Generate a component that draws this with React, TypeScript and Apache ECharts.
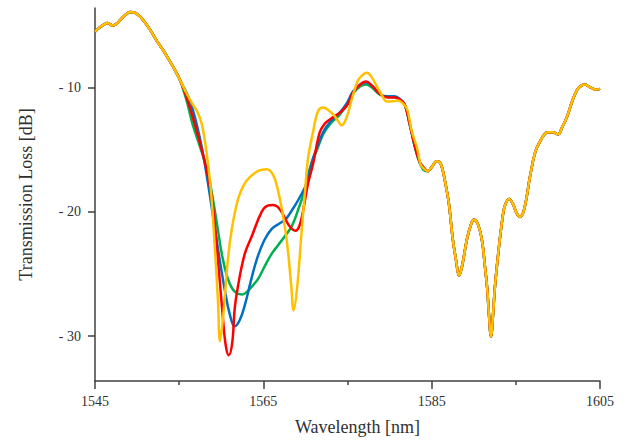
import React, { useEffect, useRef } from "react";
import * as echarts from "echarts";

// Wavelength [nm], Transmission loss [dB]
const frontCommon: [number, number][] = [
  [1545.0, -5.5], [1545.5, -5.2], [1546.0, -4.96], [1546.5, -4.8], [1547.1, -5.0],
  [1547.6, -4.85], [1548.0, -4.56], [1548.6, -4.16], [1549.2, -3.92], [1549.75, -4.0],
  [1550.3, -4.25], [1550.7, -4.56], [1551.5, -5.3], [1552.4, -6.3], [1553.2, -7.1],
  [1553.9, -7.9], [1554.5, -8.6], [1555.1, -9.4],
];

const tailCommon: [number, number][] = [
  [1584.55, -16.72], [1585.0, -16.4], [1585.6, -15.92], [1586.1, -16.16], [1586.6, -17.6],
  [1587.05, -19.36], [1587.5, -22.16], [1587.9, -23.9], [1588.25, -25.12], [1588.6, -24.4],
  [1589.2, -22.16], [1589.7, -20.96], [1590.0, -20.64], [1590.5, -21.0], [1591.0, -22.4],
  [1591.3, -24.2], [1591.6, -26.16], [1591.8, -28.2], [1592.05, -30.0], [1592.3, -28.2],
  [1592.5, -26.16], [1592.9, -23.4], [1593.4, -20.56], [1593.7, -19.5], [1594.2, -18.96],
  [1594.65, -19.36], [1595.1, -20.1], [1595.5, -20.4], [1596.0, -19.76], [1596.7, -17.1],
  [1597.3, -15.2], [1597.9, -14.3], [1598.4, -13.76], [1598.8, -13.6], [1599.4, -13.6],
  [1600.0, -13.76], [1600.5, -13.2], [1601.1, -12.32], [1601.7, -11.1], [1602.3, -10.16],
  [1602.8, -9.84], [1603.2, -9.76], [1603.7, -9.92], [1604.2, -10.1], [1604.6, -10.16],
  [1605.0, -10.1],
];

const greenMid: [number, number][] = [
  [1555.9, -11.1], [1556.6, -12.96], [1557.5, -14.8], [1558.4, -16.8], [1559.3, -20.16],
  [1560.1, -23.5], [1560.7, -25.2], [1561.3, -26.16], [1561.9, -26.56], [1562.5, -26.64],
  [1563.1, -26.4], [1563.65, -26.0], [1564.4, -25.36], [1565.2, -24.32], [1566.0, -23.36],
  [1566.7, -22.72], [1567.6, -21.92], [1568.4, -21.12], [1569.1, -19.9], [1569.95, -18.16],
  [1570.5, -16.56], [1571.4, -14.96], [1572.1, -13.76], [1572.9, -12.96], [1574.1, -12.16],
  [1574.9, -11.36], [1575.65, -10.48], [1576.5, -9.92], [1577.2, -9.76], [1577.9, -10.0],
  [1578.9, -10.6], [1579.8, -10.75], [1580.6, -10.75], [1581.2, -10.95], [1581.8, -11.4],
  [1582.4, -13.0], [1583.0, -14.75], [1583.6, -16.1], [1584.2, -16.7],
];

const blueMid: [number, number][] = [
  [1556.3, -11.1], [1557.5, -14.2], [1558.4, -17.6], [1559.3, -21.6], [1559.85, -24.0],
  [1560.4, -26.2], [1561.0, -28.2], [1561.6, -29.2], [1562.2, -28.7], [1562.8, -27.5],
  [1563.5, -25.6], [1564.25, -23.76], [1565.1, -22.3], [1566.0, -21.36], [1567.0, -20.9],
  [1567.7, -20.56], [1568.5, -19.76], [1569.35, -18.8], [1570.2, -17.6], [1570.8, -15.9],
  [1571.4, -14.8], [1572.1, -13.6], [1572.9, -12.8], [1574.1, -12.0], [1574.9, -11.28],
  [1575.65, -10.32], [1576.5, -9.76], [1577.2, -9.6], [1577.9, -9.84], [1578.9, -10.56],
  [1579.8, -10.7], [1580.6, -10.7], [1581.2, -10.9], [1581.8, -11.36], [1582.4, -12.96],
  [1583.0, -14.72], [1583.6, -16.0], [1584.2, -16.56],
];

const redMid: [number, number][] = [
  [1555.9, -10.8], [1557.1, -13.52], [1558.1, -16.16], [1558.9, -18.96], [1559.6, -23.76],
  [1560.2, -28.56], [1560.55, -30.8], [1560.9, -31.52], [1561.3, -30.56], [1561.6, -27.76],
  [1562.0, -25.92], [1562.8, -23.36], [1563.65, -21.92], [1564.8, -20.0], [1565.5, -19.5],
  [1566.15, -19.44], [1566.7, -19.6], [1567.3, -20.16], [1568.05, -21.1], [1568.8, -21.52],
  [1569.25, -21.2], [1569.7, -20.0], [1570.3, -17.76], [1570.9, -16.16], [1571.7, -13.6],
  [1572.3, -12.9], [1572.9, -12.56], [1573.6, -12.24], [1574.3, -11.92], [1575.1, -11.28],
  [1575.65, -10.4], [1576.5, -9.76], [1577.2, -9.52], [1577.9, -9.84], [1578.9, -10.56],
  [1579.8, -10.8], [1580.6, -10.8], [1581.2, -10.96], [1581.8, -11.36], [1582.4, -12.96],
  [1583.0, -14.72], [1583.6, -16.0], [1584.2, -16.56],
];

const yellowMid: [number, number][] = [
  [1555.9, -10.5], [1556.6, -11.36], [1557.2, -12.0], [1557.7, -12.96], [1558.1, -14.5],
  [1558.4, -16.0], [1558.8, -18.5], [1559.1, -21.4], [1559.6, -27.0], [1559.85, -30.4],
  [1560.2, -28.6], [1560.8, -23.76], [1561.3, -21.2], [1562.0, -18.96], [1562.7, -17.8],
  [1563.4, -17.2], [1564.4, -16.7], [1565.4, -16.56], [1566.15, -17.0], [1566.7, -18.16],
  [1567.3, -20.16], [1567.8, -22.4], [1568.3, -25.8], [1568.6, -27.92], [1569.0, -26.2],
  [1569.6, -21.12], [1569.95, -18.4], [1570.3, -15.76], [1570.9, -13.6], [1571.5, -11.9],
  [1572.1, -11.6], [1572.7, -11.8], [1573.3, -12.16], [1573.9, -12.7], [1574.3, -13.04],
  [1574.9, -12.4], [1575.5, -10.96], [1576.2, -9.5], [1576.7, -9.04], [1577.3, -8.8],
  [1577.9, -9.2], [1578.5, -9.92], [1579.1, -10.64], [1579.7, -11.12], [1580.4, -11.1],
  [1581.0, -11.04], [1581.6, -11.3], [1582.1, -11.76], [1582.6, -13.4], [1583.3, -14.96],
  [1583.7, -16.2], [1584.2, -16.6],
];

const xMajorTicks = [1545, 1565, 1585, 1605];
const xMinorTicks = [1555, 1575, 1595];
const yTicks = [-30, -20, -10];

const seriesDefs = [
  { name: "green", color: "#00B050", mid: greenMid },
  { name: "blue", color: "#0070C0", mid: blueMid },
  { name: "red", color: "#FF0000", mid: redMid },
  { name: "yellow", color: "#FFC000", mid: yellowMid },
];

const FONT = "'Liberation Serif', 'Times New Roman', serif";
const AXIS_COLOR = "#404040";

export default function App() {
  const ref = useRef<HTMLDivElement>(null);
  useEffect(() => {
    if (!ref.current) return;
    const chart = echarts.init(ref.current, undefined, { renderer: "svg" });
    chart.setOption({
      animation: false,
      backgroundColor: "#ffffff",
      grid: { left: 95, right: 28, top: 8, bottom: 58, containLabel: false },
      xAxis: [
        {
          type: "value",
          min: 1545,
          max: 1605,
          name: "Wavelength [nm]",
          nameLocation: "middle",
          nameGap: 37,
          nameTextStyle: { fontFamily: FONT, fontSize: 18, color: "#303030", padding: [0, 0, 0, 20] },
          axisLine: { show: true, onZero: false, lineStyle: { color: AXIS_COLOR, width: 1.5 } },
          axisTick: { show: true, inside: false, length: 8, customValues: xMajorTicks, lineStyle: { color: AXIS_COLOR, width: 1.5 } },
          axisLabel: {
            customValues: xMajorTicks,
            margin: 13,
            fontFamily: FONT,
            fontSize: 14,
            color: "#303030",
            formatter: (v: number) => String(v),
          },
          splitLine: { show: false },
        },
        {
          type: "value",
          min: 1545,
          max: 1605,
          position: "bottom",
          axisLine: { show: false, onZero: false },
          axisTick: { show: true, inside: false, length: 4, customValues: xMinorTicks, lineStyle: { color: AXIS_COLOR, width: 1.5 } },
          axisLabel: { show: false },
          splitLine: { show: false },
        },
      ],
      yAxis: {
        type: "value",
        min: -33.6,
        max: -3.6,
        name: "Transmission Loss [dB]",
        nameLocation: "middle",
        nameGap: 60,
        nameRotate: 90,
        nameTextStyle: { fontFamily: FONT, fontSize: 18, color: "#303030" },
        axisLine: { show: true, onZero: false, lineStyle: { color: AXIS_COLOR, width: 1.5 } },
        axisTick: { show: true, length: 7, customValues: yTicks, lineStyle: { color: AXIS_COLOR, width: 1.5 } },
        axisLabel: {
          customValues: yTicks,
          margin: 14,
          fontFamily: FONT,
          fontSize: 14,
          color: "#303030",
          formatter: (v: number) => "- " + Math.abs(v),
        },
        splitLine: { show: false },
      },
      series: seriesDefs.map((s) => ({
        name: s.name,
        type: "line",
        xAxisIndex: 0,
        smooth: 0.4,
        showSymbol: false,
        symbol: "none",
        lineStyle: { color: s.color, width: 2.5 },
        data: [...frontCommon, ...s.mid, ...tailCommon],
      })),
    });
    return () => chart.dispose();
  }, []);
  return (
    <div
      ref={ref}
      style={{ position: "fixed", left: 0, top: 0, width: 628, height: 441, background: "#fff" }}
    />
  );
}
